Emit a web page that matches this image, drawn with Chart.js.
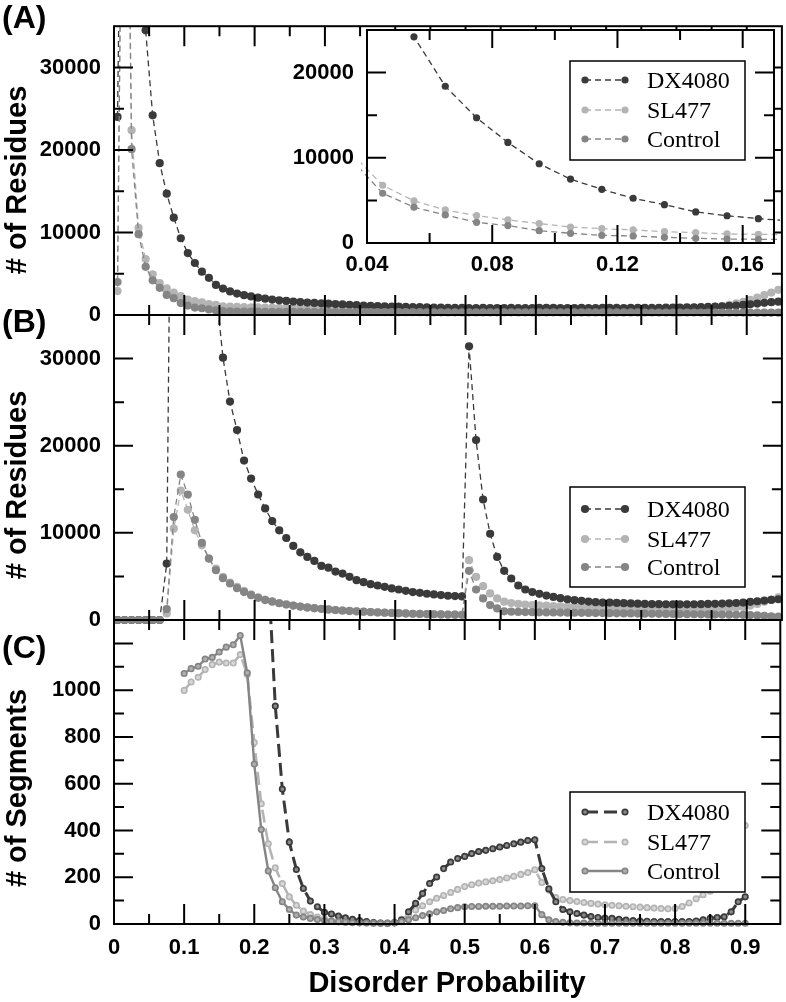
<!DOCTYPE html>
<html><head><meta charset="utf-8">
<script src="https://cdn.jsdelivr.net/npm/chart.js@4.4.1/dist/chart.umd.min.js"></script>
<style>
html,body{margin:0;padding:0;background:#fff;}
#wrap{position:relative;width:786px;height:1002px;overflow:hidden;background:#fff;}
canvas{position:absolute;left:0;top:0;}
.lab{position:absolute;font-family:"Liberation Sans",Arial,Helvetica,sans-serif;font-weight:bold;color:#000;white-space:nowrap;line-height:1;}
.yt{transform:translate(-50%,-50%) rotate(-90deg);font-size:29px;}
</style></head><body>
<div id="wrap">
<canvas id="cA" width="786" height="1002"></canvas>
<canvas id="cB" width="786" height="1002"></canvas>
<canvas id="cC" width="786" height="1002"></canvas>
<canvas id="cI" width="786" height="1002"></canvas>
<div class="lab" style="left:2px;top:1px;font-size:32px">(A)</div>
<div class="lab" style="left:2px;top:305px;font-size:32px">(B)</div>
<div class="lab" style="left:2px;top:631px;font-size:32px">(C)</div>
<div class="lab yt" style="left:16px;top:180px"># of Residues</div>
<div class="lab yt" style="left:16px;top:485px"># of Residues</div>
<div class="lab yt" style="left:16px;top:788px"># of Segments</div>
<div class="lab" style="left:447px;top:968px;font-size:29px;transform:translateX(-50%)">Disorder Probability</div>
</div>
<script>
// ---------- data ----------
const xAB = [
0.005,0.015,0.025,0.035,0.045,0.055,0.065,0.075,0.085,0.095,
0.105,0.115,0.125,0.135,0.145,0.155,0.165,0.175,0.185,0.195,
0.205,0.215,0.225,0.235,0.245,0.255,0.265,0.275,0.285,0.295,
0.305,0.315,0.325,0.335,0.345,0.355,0.365,0.375,0.385,0.395,
0.405,0.415,0.425,0.435,0.445,0.455,0.465,0.475,0.485,0.495,
0.505,0.515,0.525,0.535,0.545,0.555,0.565,0.575,0.585,0.595,
0.605,0.615,0.625,0.635,0.645,0.655,0.665,0.675,0.685,0.695,
0.705,0.715,0.725,0.735,0.745,0.755,0.765,0.775,0.785,0.795,
0.805,0.815,0.825,0.835,0.845,0.855,0.865,0.875,0.885,0.895,
0.905,0.915,0.925,0.935,0.945];
const xC = [
0.10,0.11,0.12,0.13,0.14,0.15,0.16,0.17,0.18,0.19,
0.20,0.21,0.22,0.23,0.24,0.25,0.26,0.27,0.28,0.29,
0.30,0.31,0.32,0.33,0.34,0.35,0.36,0.37,0.38,0.39,
0.40,0.41,0.42,0.43,0.44,0.45,0.46,0.47,0.48,0.49,
0.50,0.51,0.52,0.53,0.54,0.55,0.56,0.57,0.58,0.59,
0.60,0.61,0.62,0.63,0.64,0.65,0.66,0.67,0.68,0.69,
0.70,0.71,0.72,0.73,0.74,0.75,0.76,0.77,0.78,0.79,
0.80,0.81,0.82,0.83,0.84,0.85,0.86,0.87,0.88,0.89,
0.90];

const dx4080A = [
24000,90000,90000,60000,34500,24200,18400,14700,11800,9300,
7500,6300,5250,4500,3650,3200,2860,2600,2400,2250,
2100,1980,1870,1780,1700,1630,1570,1510,1460,1410,
1370,1330,1280,1240,1190,1150,1110,1080,1050,1030,
1010,990,970,950,930,910,890,880,870,860,
850,840,860,850,840,850,860,850,840,850,
860,870,860,850,840,850,860,850,850,860,
870,860,850,860,870,880,870,880,890,900,
910,920,940,960,990,1020,1060,1100,1150,1220,
1300,1380,1470,1560,1620];
const sl477A = [
2900,90000,22400,10550,6780,4940,3880,3220,2710,2280,
1880,1690,1530,1330,1220,1060,1020,980,960,940,
920,900,890,870,860,850,840,830,820,810,
800,790,780,770,760,760,750,740,740,730,
730,720,720,710,710,700,700,700,690,690,
690,680,690,680,680,690,680,680,690,680,
680,690,690,680,690,700,690,700,700,710,
710,720,720,730,740,750,760,780,800,820,
840,860,880,900,930,980,1080,1220,1400,1600,
1830,2100,2400,2720,3050];
const controlA = [
4000,90000,20100,9800,5840,4200,3290,2430,2040,1450,
1140,900,820,670,550,470,430,420,410,400,
400,390,390,380,380,380,370,370,370,360,
360,360,360,350,350,350,350,350,340,340,
340,340,340,340,330,330,330,330,330,330,
330,330,330,330,320,320,320,320,320,320,
320,320,320,320,320,310,310,310,310,310,
310,310,310,310,310,300,300,300,300,300,
300,300,300,300,300,290,290,290,290,290,
290,280,280,280,280];

const dx4080B = [
0,0,0,0,0,0,0,6480,90000,90000,
80000,70000,60000,50000,38000,30100,25070,21790,18290,16230,
14400,12800,11350,10290,9410,8500,7770,7240,6780,6210,
6000,5560,5330,4950,4570,4340,4110,3960,3810,3620,
3500,3350,3200,3120,3010,2930,2860,2780,2740,2700,
31400,20650,13830,9900,7240,5640,4760,3960,3500,3200,
3000,2800,2650,2500,2380,2280,2200,2120,2050,2000,
2000,1960,1930,1900,1870,1850,1830,1820,1810,1800,
1800,1800,1810,1820,1840,1860,1880,1910,1950,2000,
2080,2150,2230,2300,2380];
const sl477B = [
0,0,0,0,0,0,0,760,10480,14860,
12650,10290,8570,7050,5900,4950,4300,3800,3350,2950,
2600,2350,2150,1950,1800,1650,1530,1430,1340,1260,
1190,1130,1070,1020,980,940,900,860,830,800,
770,740,720,700,680,660,640,620,610,600,
6860,4950,3880,3050,2480,2100,1950,1850,1780,1720,
1680,1640,1600,1560,1530,1500,1470,1440,1420,1400,
1380,1360,1340,1320,1300,1280,1260,1240,1220,1200,
1190,1180,1180,1190,1210,1240,1280,1330,1400,1500,
1650,1850,2100,2350,2600];
const controlB = [
0,0,0,0,0,0,0,1260,11810,16690,
14400,11500,8840,7050,5710,4800,4190,3650,3200,2850,
2550,2290,2100,1920,1780,1650,1540,1440,1360,1280,
1210,1150,1090,1040,990,950,910,870,840,810,
780,750,720,700,680,660,640,620,610,600,
5640,3500,2480,1710,1330,1000,950,930,910,900,
880,870,860,850,840,830,820,810,800,790,
780,770,760,750,740,730,720,710,700,690,
680,670,660,650,640,630,620,610,600,590,
560,520,480,430,380];

const dx4080C = [
null,null,null,null,null,null,null,null,null,null,
null,null,1500,932,577,350,233,152,98,74,
50,43,34,26,20,15,10,6,4,3,
5,17,52,88,130,173,201,237,265,280,
289,301,310,315,322,329,336,343,350,357,
360,237,150,95,62,52,45,38,32,28,
25,24,20,17,15,13,12,11,10,10,
10,10,11,13,18,24,28,31,52,95,
116];
const sl477C = [
999,1035,1055,1088,1109,1120,1116,1116,1152,1067,
776,514,343,240,173,116,80,55,40,30,
22,15,10,8,6,5,4,4,4,5,
8,20,40,60,78,95,110,122,135,148,
160,168,175,180,185,190,197,204,212,220,
232,178,145,113,105,100,96,92,88,85,
82,80,78,76,74,72,70,68,66,65,
66,75,90,108,125,140,180,230,290,350,
421];
const controlC = [
1071,1092,1102,1133,1140,1163,1184,1194,1234,1074,
684,404,227,155,95,62,38,30,24,19,
15,12,10,8,6,5,4,3,3,3,
5,10,18,27,36,44,52,58,65,70,
74,75,75,76,76,76,77,77,77,78,
78,40,18,10,7,5,4,4,3,3,
3,3,3,3,3,3,3,3,3,3,
3,3,3,3,3,3,3,3,3,3,
3];

const seriesLabels = ['DX4080','SL477','Control'];
const xMajorTicks = [0,0.1,0.2,0.3,0.4,0.5,0.6,0.7,0.8,0.9];
const xMinorTicks = [0.05,0.15,0.25,0.35,0.45,0.55,0.65,0.75,0.85];
const xTickLabels = ['0','0.1','0.2','0.3','0.4','0.5','0.6','0.7','0.8','0.9'];
const resMajorTicks = [0,10000,20000,30000];
const resMinorTicks = [5000,15000,25000];
const resTickLabels = ['0','10000','20000','30000'];
const segMajorTicks = [0,200,400,600,800,1000,1200];
const segMinorTicks = [100,300,500,700,900,1100];
const segTickLabels = ['0','200','400','600','800','1000',''];
const insetXMajorTicks = [0.04,0.08,0.12,0.16];
const insetXMinorTicks = [0.06,0.10,0.14];
const insetXTickLabels = ['0.04','0.08','0.12','0.16'];
const insetYMajorTicks = [0,10000,20000];
const insetYMinorTicks = [5000,15000];
const insetYTickLabels = ['0','10000','20000'];

// ---------- styling ----------
const SANS = '"Liberation Sans", Arial, Helvetica, sans-serif';
const SERIF = '"Liberation Serif", "Times New Roman", serif';
const COL = {dx:'#3a3a3a', sl:'#b4b4b4', ct:'#858585'};
const RING = {dx:'#8a8a8a', sl:'#d8d8d8', ct:'#b0b0b0'};
Chart.defaults.font.family = SANS;

const pts = (xs, ys) => xs.map((x, i) => ({x: x, y: ys[i]}));
const CLIP = {left: 6, top: 0, right: 6, bottom: 6};

function dotSet(label, xs, ys, color, order, r) {
  return {label, data: pts(xs, ys), borderColor: color, backgroundColor: color,
    pointBackgroundColor: color, pointBorderColor: color, pointBorderWidth: 0,
    pointRadius: r, borderWidth: 1.3, borderDash: [6, 4], tension: 0, order, clip: CLIP};
}
function ringSet(label, xs, ys, color, fill, dash, width, order) {
  return {label, data: pts(xs, ys), borderColor: color, backgroundColor: fill,
    pointBackgroundColor: fill, pointBorderColor: color, pointBorderWidth: 1.7,
    pointRadius: 2.7, borderWidth: width, borderDash: dash, tension: 0, order, clip: CLIP};
}

const frameTicks = {
  id: 'frameTicks',
  beforeDatasetsDraw(chart, args, o) {
    if (!o.bg) return;
    const a = chart.chartArea, ctx = chart.ctx;
    ctx.save(); ctx.fillStyle = '#fff';
    ctx.fillRect(a.left, a.top, a.right - a.left, a.bottom - a.top); ctx.restore();
  },
  afterDatasetsDraw(chart, args, o) {
    const a = chart.chartArea, ctx = chart.ctx, xs = chart.scales.x, ys = chart.scales.y;
    ctx.save();
    ctx.strokeStyle = '#000'; ctx.lineWidth = o.lw; ctx.setLineDash([]);
    ctx.beginPath();
    const vx = (list, len) => list.forEach(v => { const p = xs.getPixelForValue(v);
      ctx.moveTo(p, a.bottom); ctx.lineTo(p, a.bottom - len); ctx.moveTo(p, a.top); ctx.lineTo(p, a.top + len); });
    const hy = (list, len) => list.forEach(v => { const p = ys.getPixelForValue(v);
      ctx.moveTo(a.left, p); ctx.lineTo(a.left + len, p); ctx.moveTo(a.right, p); ctx.lineTo(a.right - len, p); });
    vx(o.xMajor, o.xMaj); vx(o.xMinor, o.xMin); hy(o.yMajor, o.yMaj); hy(o.yMinor, o.yMin);
    ctx.stroke();
    ctx.strokeRect(a.left, a.top, a.right - a.left, a.bottom - a.top);
    ctx.restore();
  }
};

const boxLegend = {
  id: 'boxLegend',
  afterDraw(chart, args, o) {
    if (!o || !o.box) return;
    const ctx = chart.ctx; const [l, t, r, b] = o.box;
    ctx.save();
    ctx.fillStyle = '#fff'; ctx.fillRect(l, t, r - l, b - t);
    ctx.strokeStyle = '#000'; ctx.lineWidth = 1.5; ctx.setLineDash([]); ctx.strokeRect(l, t, r - l, b - t);
    chart.data.datasets.forEach((ds, i) => {
      const y = o.rows[i];
      ctx.setLineDash(ds.borderDash || []); ctx.strokeStyle = ds.borderColor; ctx.lineWidth = ds.borderWidth;
      ctx.beginPath(); ctx.moveTo(o.x1, y); ctx.lineTo(o.x2, y); ctx.stroke(); ctx.setLineDash([]);
      [o.x1, o.x2].forEach(px => {
        ctx.beginPath(); ctx.arc(px, y, ds.pointRadius, 0, Math.PI * 2);
        ctx.fillStyle = ds.pointBackgroundColor; ctx.fill();
        if (ds.pointBorderWidth > 0) { ctx.lineWidth = ds.pointBorderWidth; ctx.strokeStyle = ds.pointBorderColor; ctx.stroke(); }
      });
      ctx.fillStyle = '#000'; ctx.font = '24px ' + SERIF; ctx.textBaseline = 'alphabetic'; ctx.textAlign = 'left';
      ctx.fillText(ds.label, o.tx, y + 8);
    });
    ctx.restore();
  }
};

const tickFont = {size: 22, weight: 'bold', family: SANS};
// ticks placed exactly at the listed values, labelled from the listed labels
const fixedTicks = (values) => (scale) => { scale.ticks = values.map(v => ({value: v})); };
const labelFrom = (values, labels) => (v) => { const i = values.findIndex(t => Math.abs(t - v) < 1e-9); return i < 0 ? '' : labels[i]; };

function baseOptions(p) {
  const x = {type: 'linear', min: p.x.min, max: p.x.max, display: p.x.display,
    grid: {display: false, drawTicks: false, tickLength: 0}, border: {display: false},
    afterBuildTicks: fixedTicks(p.x.ticks),
    ticks: {autoSkip: false, maxRotation: 0, minRotation: 0,
      padding: p.x.pad || 0, color: '#000', font: tickFont, callback: labelFrom(p.x.ticks, p.x.labels)}};
  if (p.x.display) x.afterFit = (s) => { s.height = p.x.h; };
  return {
    responsive: false, animation: false, devicePixelRatio: 1, events: [],
    layout: {padding: p.pad},
    plugins: {legend: {display: false}, tooltip: {enabled: false}, frameTicks: p.ticks, boxLegend: p.legend || {}},
    scales: {
      x: x,
      y: {type: 'linear', min: p.y.min, max: p.y.max,
        grid: {display: false, drawTicks: false, tickLength: 0}, border: {display: false},
        afterBuildTicks: fixedTicks(p.y.ticks),
        ticks: {autoSkip: false, padding: 13, color: '#000', font: tickFont, callback: labelFrom(p.y.ticks, p.y.labels)},
        afterFit: (s) => { s.width = p.y.w; }}
    }
  };
}
const mainTicks = (yMaj, yMin) => ({xMajor: xMajorTicks, xMinor: xMinorTicks, yMajor: yMaj, yMinor: yMin, xMaj: 20, xMin: 10, yMaj: 19, yMin: 10, lw: 2});

// Panel A
new Chart(document.getElementById('cA'), {
  type: 'line',
  data: {datasets: [
    dotSet(seriesLabels[0], xAB, dx4080A, COL.dx, 1, 4.1),
    dotSet(seriesLabels[1], xAB, sl477A, COL.sl, 2, 4.1),
    dotSet(seriesLabels[2], xAB, controlA, COL.ct, 0, 4.1)]},
  options: baseOptions({pad: {left: 0, top: 10, right: 3, bottom: 687},
    x: {min: 0, max: 0.95, display: false, ticks: xMajorTicks, labels: xTickLabels},
    y: {min: 0, max: 35000, w: 114, ticks: resMajorTicks, labels: resTickLabels},
    ticks: mainTicks(resMajorTicks, resMinorTicks)}),
  plugins: [frameTicks, boxLegend]
});

// Panel B
new Chart(document.getElementById('cB'), {
  type: 'line',
  data: {datasets: [
    dotSet(seriesLabels[0], xAB, dx4080B, COL.dx, 1, 4.1),
    dotSet(seriesLabels[1], xAB, sl477B, COL.sl, 2, 4.1),
    dotSet(seriesLabels[2], xAB, controlB, COL.ct, 0, 4.1)]},
  options: baseOptions({pad: {left: 0, top: 315, right: 3, bottom: 382},
    x: {min: 0, max: 0.95, display: false, ticks: xMajorTicks, labels: xTickLabels},
    y: {min: 0, max: 35000, w: 114, ticks: resMajorTicks, labels: resTickLabels},
    ticks: mainTicks(resMajorTicks, resMinorTicks),
    legend: {box: [570, 487, 745, 587], rows: [509, 539, 567], x1: 585, x2: 625, tx: 647}}),
  plugins: [frameTicks, boxLegend]
});

// Panel C
new Chart(document.getElementById('cC'), {
  type: 'line',
  data: {datasets: [
    ringSet(seriesLabels[0], xC, dx4080C, COL.dx, RING.dx, [13, 6], 3, 1),
    ringSet(seriesLabels[1], xC, sl477C, COL.sl, RING.sl, [13, 6], 2.6, 2),
    ringSet(seriesLabels[2], xC, controlC, COL.ct, RING.ct, [], 2.4, 0)]},
  options: baseOptions({pad: {left: 0, top: 620, right: 3, bottom: 0},
    x: {min: 0, max: 0.95, display: true, h: 78, pad: 11, ticks: xMajorTicks, labels: xTickLabels},
    y: {min: 0, max: 1300, w: 114, ticks: segMajorTicks, labels: segTickLabels},
    ticks: mainTicks(segMajorTicks, segMinorTicks),
    legend: {box: [570, 792, 745, 892], rows: [812, 842, 871], x1: 585, x2: 625, tx: 647}}),
  plugins: [frameTicks, boxLegend]
});

// Inset of panel A
new Chart(document.getElementById('cI'), {
  type: 'line',
  data: {datasets: [
    dotSet(seriesLabels[0], xAB, dx4080A, COL.dx, 1, 3.6),
    dotSet(seriesLabels[1], xAB, sl477A, COL.sl, 2, 3.6),
    dotSet(seriesLabels[2], xAB, controlA, COL.ct, 0, 3.6)]},
  options: baseOptions({pad: {left: 267, top: 30, right: 12, bottom: 719},
    x: {min: 0.04, max: 0.17, display: true, h: 40, pad: 9, ticks: insetXMajorTicks, labels: insetXTickLabels},
    y: {min: 0, max: 25000, w: 100, ticks: insetYMajorTicks, labels: insetYTickLabels},
    ticks: {xMajor: insetXMajorTicks, xMinor: insetXMinorTicks, yMajor: insetYMajorTicks, yMinor: insetYMinorTicks,
      xMaj: 18, xMin: 10, yMaj: 19, yMin: 10, lw: 2, bg: true},
    legend: {box: [570, 61, 745, 160], rows: [80, 110, 139], x1: 585, x2: 625, tx: 647}}),
  plugins: [frameTicks, boxLegend]
});
</script>
</body></html>
